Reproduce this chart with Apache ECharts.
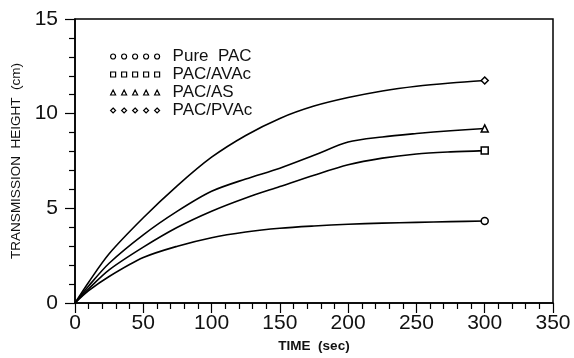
<!DOCTYPE html>
<html>
<head>
<meta charset="utf-8">
<script src="https://cdn.jsdelivr.net/npm/echarts@6/dist/echarts.min.js"></script>
<style>
html,body{margin:0;padding:0;background:#fff;}
#c{width:574px;height:358px;}
</style>
</head>
<body>
<div id="c"></div>
<script>
var timeSec = [0, 10, 25, 50, 75, 100, 125, 150, 175, 200, 225, 250, 275, 300];
var purePAC = [0, 0.65, 1.4, 2.4, 3.0, 3.45, 3.75, 3.95, 4.07, 4.16, 4.22, 4.26, 4.3, 4.33];
var pacAVAc = [0, 0.75, 1.75, 2.95, 4.0, 4.85, 5.55, 6.15, 6.75, 7.3, 7.65, 7.87, 7.98, 8.05];
var pacAS   = [0, 0.9, 2.1, 3.6, 4.85, 5.9, 6.55, 7.12, 7.8, 8.5, 8.77, 8.95, 9.1, 9.22];
var pacPVAc = [0, 1.1, 2.6, 4.5, 6.2, 7.7, 8.85, 9.75, 10.4, 10.85, 11.2, 11.45, 11.62, 11.75];
var seriesNames = ['Pure  PAC', 'PAC/AVAc', 'PAC/AS', 'PAC/PVAc'];
var seriesSymbols = ['circle', 'rect', 'triangle', 'diamond'];
var xTicks = [0, 50, 100, 150, 200, 250, 300, 350];
var yTicks = [0, 5, 10, 15];

function five(shape) {
  var p = '';
  for (var i = 0; i < 5; i++) {
    var x = i * 11;
    if (shape === 'circle') p += 'M' + x + ',2.5a2.5,2.5 0 1,0 5,0a2.5,2.5 0 1,0 -5,0';
    else if (shape === 'rect') p += 'M' + x + ',0L' + (x + 5) + ',0L' + (x + 5) + ',5L' + x + ',5Z';
    else if (shape === 'triangle') p += 'M' + (x + 2.5) + ',0L' + (x + 5) + ',5L' + x + ',5Z';
    else p += 'M' + (x + 2.5) + ',0L' + (x + 5) + ',2.5L' + (x + 2.5) + ',5L' + x + ',2.5Z';
  }
  return 'path://' + p;
}

var allY = [purePAC, pacAVAc, pacAS, pacPVAc];
var series = allY.map(function (ys, k) {
  var last = ys.length - 1;
  return {
    name: seriesNames[k],
    type: 'line',
    smooth: 0.3,
    data: timeSec.map(function (t, i) { return [t, ys[i]]; }),
    symbol: function (v, p) { return p.dataIndex === last ? seriesSymbols[k] : 'none'; },
    symbolSize: 7,
    showAllSymbol: true,
    lineStyle: { color: '#000', width: 1.6 },
    itemStyle: { color: '#fff', borderColor: '#000', borderWidth: 1.5 },
    emphasis: { disabled: true },
    z: 3
  };
});

var chart = echarts.init(document.getElementById('c'), null, { renderer: 'canvas' });
chart.setOption({
  animation: false,
  backgroundColor: '#fff',
  textStyle: { fontFamily: 'Liberation Sans' },
  grid: { left: 75, right: 21, top: 19, bottom: 53, show: true, borderColor: '#000', borderWidth: 1.5, backgroundColor: 'transparent' },
  legend: {
    orient: 'vertical',
    left: 105,
    top: 43,
    itemWidth: 49,
    itemHeight: 5,
    itemGap: 1,
    selectedMode: false,
    data: seriesNames.map(function (n, k) { return { name: n, icon: five(seriesSymbols[k]) }; }),
    itemStyle: { color: '#fff', borderColor: '#000', borderWidth: 1.2 },
    textStyle: { fontSize: 17, color: '#111', lineHeight: 15, padding: [0, 0, 0, 8], fontFamily: 'Liberation Sans' }
  },
  xAxis: {
    type: 'value', min: xTicks[0], max: xTicks[xTicks.length - 1], interval: 50,
    name: 'TIME  (sec)', nameLocation: 'middle', nameGap: 36,
    nameTextStyle: { fontSize: 13.5, fontWeight: 'bold', color: '#111' },
    axisLine: { onZero: false, lineStyle: { color: '#000', width: 1.5 } },
    axisTick: { show: true, inside: false, length: 10, lineStyle: { color: '#000', width: 1.2 } },
    minorTick: { show: true, splitNumber: 5, length: 6, lineStyle: { color: '#000', width: 1.2 } },
    splitLine: { show: false },
    axisLabel: { fontSize: 21, color: '#111', margin: 10 }
  },
  yAxis: {
    type: 'value', min: yTicks[0], max: yTicks[yTicks.length - 1], interval: 5,
    name: 'TRANSMISSION  HEIGHT  (cm)', nameLocation: 'middle', nameGap: 51, nameRotate: 90,
    nameTextStyle: { fontSize: 13.5, color: '#111' },
    axisLine: { onZero: false, lineStyle: { color: '#000', width: 1.5 } },
    axisTick: { show: true, inside: false, length: 10, lineStyle: { color: '#000', width: 1.2 } },
    minorTick: { show: true, splitNumber: 5, length: 6, lineStyle: { color: '#000', width: 1.2 } },
    splitLine: { show: false },
    axisLabel: { fontSize: 21, color: '#111', margin: 17 }
  },
  series: series
});
</script>
</body>
</html>
